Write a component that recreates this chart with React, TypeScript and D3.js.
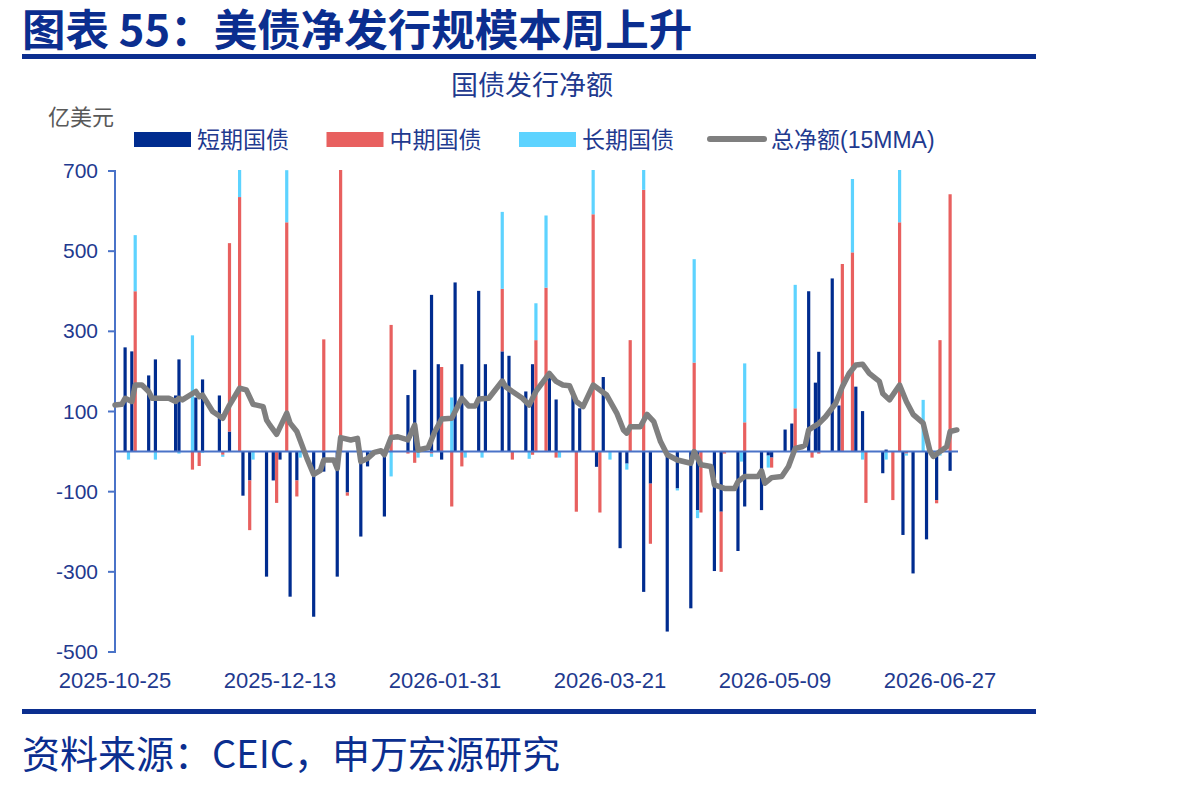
import React from 'react';
import * as d3 from 'd3';

// bar dates (auction settlement) and net issuance by tenor, 亿美元
const barDates = [
  '2025-10-28', '2025-10-29', '2025-10-30', '2025-10-31', '2025-11-04', '2025-11-06', '2025-11-12', '2025-11-13',
  '2025-11-17', '2025-11-18', '2025-11-19', '2025-11-20', '2025-11-25', '2025-11-26', '2025-11-28', '2025-12-01',
  '2025-12-02', '2025-12-04', '2025-12-05', '2025-12-09', '2025-12-11', '2025-12-12', '2025-12-13', '2025-12-15',
  '2025-12-16', '2025-12-18', '2025-12-19', '2025-12-23', '2025-12-26', '2025-12-30', '2025-12-31', '2026-01-02',
  '2026-01-06', '2026-01-08', '2026-01-09', '2026-01-13', '2026-01-15', '2026-01-20', '2026-01-22', '2026-01-23',
  '2026-01-27', '2026-01-29', '2026-01-30', '2026-02-02', '2026-02-03', '2026-02-05', '2026-02-06', '2026-02-10',
  '2026-02-11', '2026-02-12', '2026-02-17', '2026-02-19', '2026-02-20', '2026-02-24', '2026-02-25', '2026-02-26',
  '2026-02-27', '2026-03-02', '2026-03-03', '2026-03-05', '2026-03-06', '2026-03-10', '2026-03-11', '2026-03-12',
  '2026-03-16', '2026-03-17', '2026-03-18', '2026-03-19', '2026-03-21', '2026-03-24', '2026-03-26', '2026-03-27',
  '2026-03-31', '2026-04-02', '2026-04-07', '2026-04-10', '2026-04-14', '2026-04-15', '2026-04-16', '2026-04-17',
  '2026-04-21', '2026-04-23', '2026-04-24', '2026-04-28', '2026-04-29', '2026-04-30', '2026-05-05', '2026-05-07',
  '2026-05-08', '2026-05-12', '2026-05-14', '2026-05-15', '2026-05-19', '2026-05-20', '2026-05-21', '2026-05-22',
  '2026-05-26', '2026-05-28', '2026-05-29', '2026-06-01', '2026-06-02', '2026-06-04', '2026-06-05', '2026-06-10',
  '2026-06-11', '2026-06-13', '2026-06-15', '2026-06-16', '2026-06-17', '2026-06-19', '2026-06-22', '2026-06-23',
  '2026-06-26', '2026-06-27', '2026-06-30',
];
const shortTerm = [
  260, 0, 250, 0, 190, 230, 140, 230,
  0, 135, 0, 180, 140, 0, 50, 0,
  -110, -72, 0, -312, -72, 0, -20, 0,
  -362, -72, 0, -412, -50, -312, 0, -102,
  -212, -37, 0, -162, 0, 141, 204, 0,
  391, 218, -20, 0, 422, 218, 0, 401,
  0, 218, 250, 239, 0, 150, 0, 218,
  0, 0, 190, 130, 0, 150, 0, 108,
  0, -38, 0, 186, 0, -241, -30, 0,
  -350, -80, -449, -92, -391, 0, -146, 0,
  -298, -150, 0, -248, 0, -137, -146, -10,
  -15, 55, 70, 0, 400, 0, 172, 249,
  432, 115, 0, 0, 162, 101, 0, -54,
  5, 0, 0, -208, 0, -304, 0, -219,
  -121, 0, -48,
];
const midTerm = [
  0, 0, 0, 400, 0, 0, 0, 0,
  -45, 0, -36, 0, 0, -8, 470, 635,
  0, -124, 0, 0, 0, -128, 0, 572,
  0, -40, 0, 0, 280, 0, 720, -8,
  0, 0, 0, 0, 316, -5, -28, 0,
  -5, 0, 211, -137, 0, -37, 0, 0,
  0, 0, 156, 0, -20, 0, 0, -8,
  278, 409, 0, -15, 0, 0, -150, 0,
  592, 0, -152, 0, 0, 0, 0, 278,
  653, -150, 0, 0, 0, 222, 0, -152,
  0, -150, -5, 0, 0, 73, 0, 0,
  -25, 0, 0, 108, 0, -15, 0, -5,
  0, 0, 468, 497, 0, 0, -128, 0,
  0, -121, 572, 0, -5, 0, 0, 0,
  -8, 278, 642,
];
const longTerm = [
  0, -20, 0, 140, 0, -20, 0, -5,
  290, 0, 0, -3, 0, -5, 0, 120,
  0, 0, -20, 0, 0, 0, 0, 130,
  0, 0, -15, 0, 0, 0, 0, 0,
  0, 0, -5, 0, -62, 0, 0, -15,
  -8, 0, 0, 135, 0, 0, -15, 0,
  -15, 0, 192, 0, 0, 0, -18, 0,
  92, 180, 0, 0, -15, 0, 0, 0,
  150, 0, 0, 0, -20, 0, -15, 0,
  80, 0, 0, -5, 0, 258, -20, 0,
  0, 0, 0, 0, -25, 147, 0, -30,
  0, 0, 0, 308, 0, 0, 0, 0,
  0, 0, 0, 183, 0, -20, 0, 0,
  -20, 0, 140, 0, -5, 0, 129, 0,
  0, -10, 0,
];

// 15-day moving average of total net issuance
const maDates = [
  '2025-10-25', '2025-10-27', '2025-10-28', '2025-10-30', '2025-10-31', '2025-11-02', '2025-11-04', '2025-11-05',
  '2025-11-10', '2025-11-12', '2025-11-13', '2025-11-14', '2025-11-18', '2025-11-19', '2025-11-20', '2025-11-23',
  '2025-11-26', '2025-11-28', '2025-12-01', '2025-12-03', '2025-12-05', '2025-12-08', '2025-12-09', '2025-12-10',
  '2025-12-12', '2025-12-15', '2025-12-16', '2025-12-18', '2025-12-21', '2025-12-23', '2025-12-25', '2025-12-26',
  '2025-12-29', '2025-12-30', '2025-12-31', '2026-01-03', '2026-01-05', '2026-01-06', '2026-01-08', '2026-01-10',
  '2026-01-12', '2026-01-13', '2026-01-15', '2026-01-17', '2026-01-20', '2026-01-22', '2026-01-23', '2026-01-26',
  '2026-01-28', '2026-01-30', '2026-02-02', '2026-02-05', '2026-02-07', '2026-02-09', '2026-02-10', '2026-02-13',
  '2026-02-17', '2026-02-18', '2026-02-20', '2026-02-23', '2026-02-25', '2026-02-27', '2026-03-03', '2026-03-05',
  '2026-03-07', '2026-03-09', '2026-03-11', '2026-03-13', '2026-03-16', '2026-03-20', '2026-03-23', '2026-03-25',
  '2026-03-26', '2026-03-27', '2026-03-30', '2026-04-01', '2026-04-03', '2026-04-05', '2026-04-07', '2026-04-10',
  '2026-04-14', '2026-04-15', '2026-04-17', '2026-04-20', '2026-04-21', '2026-04-24', '2026-04-27', '2026-04-28',
  '2026-04-30', '2026-05-04', '2026-05-05', '2026-05-06', '2026-05-08', '2026-05-11', '2026-05-13', '2026-05-15',
  '2026-05-17', '2026-05-18', '2026-05-19', '2026-05-22', '2026-05-24', '2026-05-27', '2026-05-29', '2026-05-31',
  '2026-06-02', '2026-06-04', '2026-06-06', '2026-06-09', '2026-06-10', '2026-06-12', '2026-06-15', '2026-06-17',
  '2026-06-19', '2026-06-22', '2026-06-24', '2026-06-25', '2026-06-27', '2026-06-29', '2026-06-30', '2026-07-02',
];
const maValues = [
  116, 118, 133, 125, 166, 166, 150, 133,
  133, 125, 133, 129, 150, 137, 141, 100,
  83, 116, 158, 154, 118, 112, 79, 66,
  43, 96, 71, 50, -17, -57, -47, -21,
  -21, -42, 35, 29, 33, -25, -17, -2,
  2, -8, 35, 37, 29, 66, 4, 10,
  50, 81, 83, 133, 114, 114, 131, 133,
  176, 162, 150, 133, 116, 150, 195, 175,
  166, 164, 125, 112, 166, 141, 96, 54,
  46, 62, 62, 93, 75, 25, -8, -21,
  -29, 0, -33, -37, -83, -92, -92, -75,
  -62, -62, -48, -79, -65, -62, -37, 8,
  12, 17, 54, 70, 87, 120, 162, 195,
  216, 218, 195, 175, 145, 129, 166, 125,
  93, 71, 2, -12, 0, 12, 50, 54,
];

const seriesKeys = ['short', 'mid', 'long'];
const seriesNames = ['短期国债', '中期国债', '长期国债'];
const seriesColors = ['#002c8f', '#e8605f', '#5dd3ff'];
const lineName = '总净额(15MMA)';
const yTickValues = [700, 500, 300, 100, -100, -300, -500];
const xTickLabels = ['2025-10-25', '2025-12-13', '2026-01-31', '2026-03-21', '2026-05-09', '2026-06-27'];

const NAVY = '#0b2e8f';
const TEXT_BLUE = '#1f3a8f';
const AXIS_BLUE = '#4a73c8';
const LATIN = "'Liberation Sans', Arial, 'Noto Sans CJK SC', sans-serif";
const CJK = "'Noto Sans CJK SC', 'Liberation Sans', sans-serif";

const App: React.FC = () => {
  const parse = d3.timeParse('%Y-%m-%d');
  const left = 115;
  const top = 171;
  const bottom = 652;
  const right = 958;

  const x = d3.scaleTime()
    .domain([parse('2025-10-25') as Date, parse('2026-06-27') as Date])
    .range([115, 940]);
  const y = d3.scaleLinear().domain([-500, 700]).range([bottom, top]);

  const rows = barDates.map((d, i) => ({
    date: parse(d) as Date,
    short: shortTerm[i],
    mid: midTerm[i],
    long: longTerm[i],
  }));
  const stacked = d3.stack<any>()
    .keys(seriesKeys)
    .offset(d3.stackOffsetDiverging)(rows);

  const maData = maDates.map((d, i) => ({ date: parse(d) as Date, v: maValues[i] }));
  const line = d3.line<{ date: Date; v: number }>()
    .x(d => x(d.date))
    .y(d => y(d.v));

  const barW = 3.2;

  return (
    <svg width={1190} height={787} style={{ position: 'absolute', left: 0, top: 0, background: '#fff' }}>
      <defs>
        <clipPath id="plot-clip">
          <rect x={left - 5} y={top - 1} width={right - left + 10} height={bottom - top + 2} />
        </clipPath>
      </defs>

      {/* header */}
      <text x={22} y={46} fontFamily={CJK} fontWeight="bold" fontSize={43.5} fill={NAVY}>
        图表 55：美债净发行规模本周上升
      </text>
      <rect x={22} y={54} width={1014} height={5} fill={NAVY} />

      <text x={532} y={95} textAnchor="middle" fontFamily={CJK} fontSize={27} fill={TEXT_BLUE}>国债发行净额</text>
      <text x={48} y={125} fontFamily={CJK} fontSize={22} fill="#595959">亿美元</text>

      {/* legend */}
      {seriesNames.map((name, i) => (
        <g key={name} transform={`translate(${134 + i * 192.5},0)`}>
          <rect x={0} y={132} width={57} height={15} fill={seriesColors[i]} />
          <text x={63} y={148} fontFamily={CJK} fontSize={23} fill={TEXT_BLUE}>{name}</text>
        </g>
      ))}
      <line x1={710} x2={764} y1={139} y2={139} stroke="#7f7f7f" strokeWidth={6} strokeLinecap="round" />
      <text x={771} y={148} fontFamily={LATIN} fontSize={23} fill={TEXT_BLUE}>{lineName}</text>

      {/* bars */}
      <g clipPath="url(#plot-clip)">
        {stacked.map((s, si) => (
          <g key={s.key} fill={seriesColors[si]}>
            {s.map((p, j) => {
              if (p[0] === p[1]) return null;
              const y0 = y(p[0]);
              const y1 = y(p[1]);
              return (
                <rect
                  key={j}
                  x={x(p.data.date) - barW / 2}
                  y={Math.min(y0, y1)}
                  width={barW}
                  height={Math.abs(y1 - y0)}
                />
              );
            })}
          </g>
        ))}
      </g>

      {/* y axis */}
      <line x1={left} x2={left} y1={top - 1} y2={bottom + 1} stroke={AXIS_BLUE} strokeWidth={2} />
      {yTickValues.map(t => (
        <g key={t}>
          <line x1={left - 7} x2={left} y1={y(t)} y2={y(t)} stroke={AXIS_BLUE} strokeWidth={2} />
          <text x={98} y={y(t) + 7} textAnchor="end" fontFamily={LATIN} fontSize={21} fill={TEXT_BLUE}>{t}</text>
        </g>
      ))}

      {/* zero line */}
      <line x1={left} x2={right} y1={y(0)} y2={y(0)} stroke={AXIS_BLUE} strokeWidth={2} />

      {/* x labels */}
      {xTickLabels.map(t => (
        <text key={t} x={x(parse(t) as Date)} y={688} textAnchor="middle" fontFamily={LATIN} fontSize={22} fill={TEXT_BLUE}>
          {t}
        </text>
      ))}

      {/* moving average */}
      <path d={line(maData) || ''} fill="none" stroke="#7f7f7f" strokeWidth={5.5} strokeLinejoin="round" strokeLinecap="round" />

      {/* footer */}
      <rect x={22} y={709} width={1014} height={5} fill={NAVY} />
      <text x={22} y={768} fontFamily={CJK} fontSize={38} fill={NAVY}>资料来源：CEIC，申万宏源研究</text>
    </svg>
  );
};

export default App;
